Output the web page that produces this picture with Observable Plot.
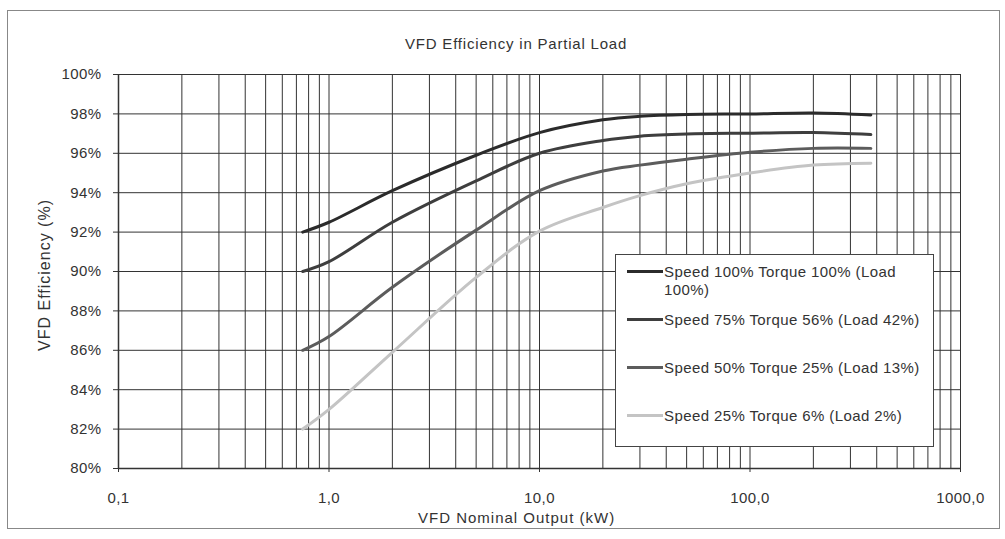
<!DOCTYPE html>
<html>
<head>
<meta charset="utf-8">
<script src="https://cdn.jsdelivr.net/npm/d3@7"></script>
<script src="https://cdn.jsdelivr.net/npm/@observablehq/plot@0.6"></script>
<style>
  html, body { margin: 0; padding: 0; background: #fff; }
  #wrap { position: relative; width: 1005px; height: 539px; font-family: "Liberation Sans", Arial, sans-serif; color: #333; }
  #frame { position: absolute; left: 7px; top: 10px; width: 993px; height: 519px; border: 1px solid #888; box-sizing: border-box; pointer-events: none; }
  #title { position: absolute; left: 405px; top: 35px; font-size: 15px; letter-spacing: 0.8px; white-space: nowrap; line-height: 17px; }
  #xlabel { position: absolute; left: 418px; top: 509px; font-size: 15px; letter-spacing: 1px; white-space: nowrap; line-height: 17px; }
  #ylabel { position: absolute; left: 45px; top: 275px; font-size: 16px; letter-spacing: 1px; transform: translate(-50%, -50%) rotate(-90deg); white-space: nowrap; }
  #legend { position: absolute; left: 615px; top: 254px; width: 319px; height: 193px; border: 1px solid #444; background: #fff; box-sizing: border-box; font-size: 15px; letter-spacing: 0.4px; }
  .item { position: absolute; left: 11px; display: flex; align-items: flex-start; }
  .swatch { width: 36px; height: 3px; margin-top: 7px; flex: none; }
  .lbl { width: 262px; line-height: 17.5px; margin-left: 1px; }
  svg { position: absolute; left: 0; top: 0; }
</style>
</head>
<body>
<div id="wrap">
  <div id="chart"></div>
  <div id="frame"></div>
  <div id="title">VFD Efficiency in Partial Load</div>
  <div id="xlabel">VFD Nominal Output (kW)</div>
  <div id="ylabel">VFD Efficiency (%)</div>
  <div id="legend"></div>
</div>
<script>
// Data
const outputKW = [0.75, 1, 2, 5, 10, 20, 30, 50, 100, 200, 375];
const seriesNames = [
  "Speed 100% Torque 100% (Load 100%)",
  "Speed 75% Torque 56% (Load 42%)",
  "Speed 50% Torque 25% (Load 13%)",
  "Speed 25% Torque 6% (Load 2%)"
];
const eff100 = [92.0, 92.5, 94.1, 95.9, 97.05, 97.7, 97.88, 97.97, 98.0, 98.05, 97.95];
const eff75  = [90.0, 90.5, 92.5, 94.6, 96.0, 96.65, 96.87, 96.98, 97.02, 97.05, 96.95];
const eff50  = [86.0, 86.7, 89.2, 92.1, 94.1, 95.1, 95.4, 95.7, 96.05, 96.25, 96.25];
const eff25  = [82.0, 83.0, 85.9, 89.7, 92.05, 93.25, 93.85, 94.45, 95.0, 95.4, 95.5];
const seriesColors = ["#2b2b2b", "#3e3e3e", "#5c5c5c", "#c4c4c4"];
const yTicks = [80, 82, 84, 86, 88, 90, 92, 94, 96, 98, 100];
const xTicks = [0.1, 1, 10, 100, 1000];
const xGrid = [];
for (const d of [0.1, 1, 10, 100]) for (let k = 1; k <= 9; k++) xGrid.push(+(d * k).toPrecision(3));
xGrid.push(1000);

const allSeries = [eff100, eff75, eff50, eff25];
const rows = [];
allSeries.forEach((vals, i) => vals.forEach((v, j) => rows.push({series: seriesNames[i], x: outputKW[j], y: v})));

const gridColor = "#333333";
const chart = Plot.plot({
  width: 1005,
  height: 539,
  marginLeft: 118,
  marginRight: 45,
  marginTop: 74,
  marginBottom: 71,
  style: {fontFamily: "'Liberation Sans', Arial, sans-serif", fontSize: "15px", letterSpacing: "0.4px", color: "#333", background: "transparent"},
  x: {type: "log", domain: [0.1, 1000]},
  y: {domain: [80, 100]},
  color: {domain: seriesNames, range: seriesColors},
  marks: [
    Plot.ruleX(xGrid, {stroke: gridColor, strokeWidth: 1}),
    Plot.ruleY(yTicks, {stroke: gridColor, strokeWidth: 1}),
    Plot.axisX({ticks: xTicks, tickFormat: d => d3.format(".1f")(d).replace(".", ","), tickSize: 4, tickPadding: 20, label: null, stroke: gridColor, fill: "#333"}),
    Plot.axisY({ticks: yTicks, tickFormat: d => d + "%", tickSize: 5, tickPadding: 12, label: null, stroke: gridColor, fill: "#333"}),
    Plot.ruleX([0.1], {stroke: "#333", strokeWidth: 1.5}),
    Plot.ruleY([80], {stroke: "#333", strokeWidth: 1.5}),
    Plot.line(rows, {x: "x", y: "y", z: "series", stroke: "series", strokeWidth: 3, curve: "catmull-rom"})
  ]
});
document.getElementById("chart").appendChild(chart);

const legend = document.getElementById("legend");
const tops = [8, 56, 104, 152];
seriesNames.forEach((name, i) => {
  const item = document.createElement("div");
  item.className = "item";
  item.style.top = tops[i] + "px";
  const sw = document.createElement("div");
  sw.className = "swatch";
  sw.style.background = seriesColors[i];
  const lb = document.createElement("div");
  lb.className = "lbl";
  lb.textContent = name;
  item.appendChild(sw);
  item.appendChild(lb);
  legend.appendChild(item);
});
</script>
</body>
</html>
